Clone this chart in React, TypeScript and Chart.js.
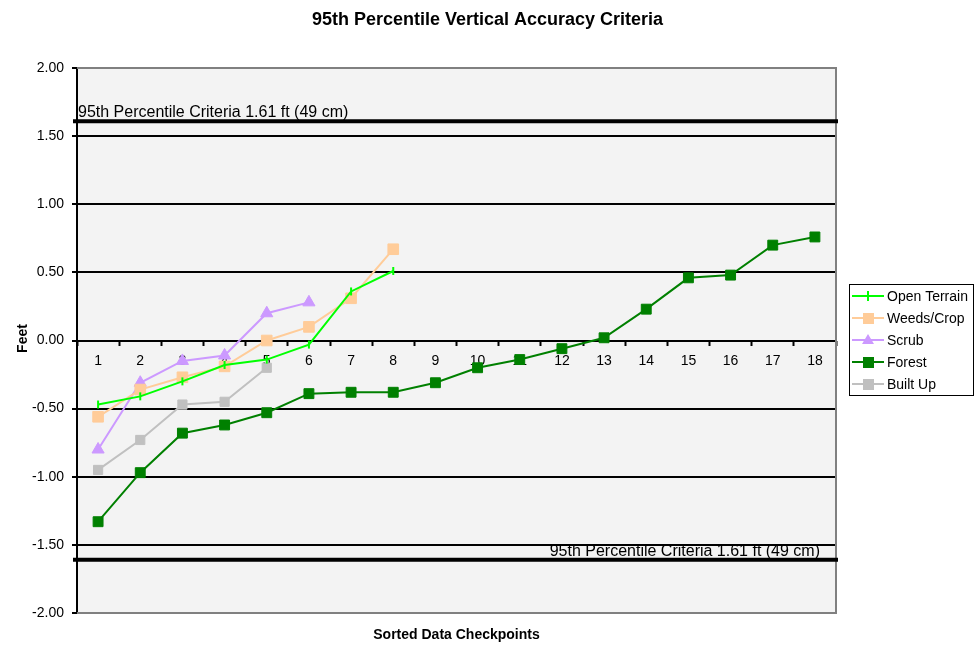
import React, { useEffect, useRef } from "react";
import { Chart, registerables } from "chart.js";

Chart.register(...registerables);

const CATEGORIES = ["1", "2", "3", "4", "5", "6", "7", "8", "9", "10", "11", "12", "13", "14", "15", "16", "17", "18"];
const OPEN_TERRAIN = [-0.47, -0.41, -0.3, -0.18, -0.14, -0.03, 0.36, 0.51];
const WEEDS_CROP = [-0.56, -0.36, -0.27, -0.19, 0.0, 0.1, 0.31, 0.67];
const SCRUB = [-0.8, -0.31, -0.15, -0.11, 0.2, 0.28];
const FOREST = [-1.33, -0.97, -0.68, -0.62, -0.53, -0.39, -0.38, -0.38, -0.31, -0.2, -0.14, -0.06, 0.02, 0.23, 0.46, 0.48, 0.7, 0.76];
const BUILT_UP = [-0.95, -0.73, -0.47, -0.45, -0.2];
const Y_MIN = -2;
const Y_MAX = 2;
const Y_STEP = 0.5;
const CRITERIA = 1.61;
const CRITERIA_LABEL = "95th Percentile Criteria 1.61 ft (49 cm)";
const TITLE = "95th Percentile Vertical Accuracy Criteria";
const X_TITLE = "Sorted Data Checkpoints";
const Y_TITLE = "Feet";

const FONT = "Arial, 'Liberation Sans', sans-serif";

const SERIES = [
  { label: "Open Terrain", data: OPEN_TERRAIN, color: "#00ff00", marker: "plus", radius: 4 },
  { label: "Weeds/Crop", data: WEEDS_CROP, color: "#ffcc99", marker: "rect", radius: 7.5 },
  { label: "Scrub", data: SCRUB, color: "#cc99ff", marker: "triangle", radius: 7 },
  { label: "Forest", data: FOREST, color: "#008000", marker: "rect", radius: 7 },
  { label: "Built Up", data: BUILT_UP, color: "#c0c0c0", marker: "rect", radius: 6.5 },
];

const decorPlugin = {
  id: "decor",
  beforeDraw(chart: any) {
    const { ctx, chartArea: a } = chart;
    ctx.save();
    ctx.fillStyle = "#ffffff";
    ctx.fillRect(0, 0, chart.width, chart.height);
    ctx.fillStyle = "#f3f3f3";
    ctx.fillRect(a.left, a.top, a.right - a.left, a.bottom - a.top);
    ctx.restore();
  },
  beforeDatasetsDraw(chart: any) {
    const { ctx, chartArea: a, scales } = chart;
    const y = scales.y;
    ctx.save();
    ctx.strokeStyle = "#808080";
    ctx.lineWidth = 2;
    ctx.beginPath();
    ctx.moveTo(a.left, a.top);
    ctx.lineTo(a.right, a.top);
    ctx.lineTo(a.right, a.bottom);
    ctx.lineTo(a.left, a.bottom);
    ctx.stroke();
    const yu = y.getPixelForValue(CRITERIA);
    const yl = y.getPixelForValue(-CRITERIA);
    ctx.strokeStyle = "#000000";
    ctx.lineWidth = 4;
    ctx.beginPath();
    ctx.moveTo(a.left - 4, yu);
    ctx.lineTo(a.right + 2, yu);
    ctx.moveTo(a.left - 4, yl);
    ctx.lineTo(a.right + 2, yl);
    ctx.stroke();
    ctx.fillStyle = "#000000";
    ctx.font = `16px ${FONT}`;
    ctx.textBaseline = "alphabetic";
    ctx.textAlign = "left";
    ctx.fillText(CRITERIA_LABEL, a.left + 1, yu - 4);
    ctx.textAlign = "right";
    ctx.fillText(CRITERIA_LABEL, a.right - 16, yl - 4);
    ctx.restore();
  },
  afterDraw(chart: any) {
    const { ctx, chartArea: a } = chart;
    ctx.save();
    ctx.fillStyle = "#000000";
    ctx.font = `bold 18px ${FONT}`;
    ctx.textAlign = "center";
    ctx.textBaseline = "alphabetic";
    ctx.fillText(TITLE, chart.width / 2, 25);
    ctx.font = `bold 14px ${FONT}`;
    ctx.fillText(X_TITLE, (a.left + a.right) / 2, 639);
    ctx.save();
    ctx.translate(27, (a.top + a.bottom) / 2 - 2);
    ctx.rotate(-Math.PI / 2);
    ctx.fillText(Y_TITLE, 0, 0);
    ctx.restore();

    const lx = 849, ly = 284, lw = 125, lh = 112;
    ctx.fillStyle = "#ffffff";
    ctx.fillRect(lx, ly, lw, lh);
    ctx.strokeStyle = "#000000";
    ctx.lineWidth = 1;
    ctx.strokeRect(lx + 0.5, ly + 0.5, lw - 1, lh - 1);
    chart.data.datasets.forEach((ds: any, i: number) => {
      const s = SERIES[i];
      const cy = ly + 12 + i * 22;
      const cx = lx + 19;
      ctx.strokeStyle = s.color;
      ctx.lineWidth = 2;
      ctx.beginPath();
      ctx.moveTo(lx + 3, cy);
      ctx.lineTo(lx + 35, cy);
      ctx.stroke();
      ctx.fillStyle = s.color;
      if (s.marker === "rect") {
        ctx.fillRect(cx - 5, cy - 5, 11, 11);
      } else if (s.marker === "triangle") {
        ctx.beginPath();
        ctx.moveTo(cx, cy - 6);
        ctx.lineTo(cx + 6, cy + 4);
        ctx.lineTo(cx - 6, cy + 4);
        ctx.closePath();
        ctx.fill();
      } else {
        ctx.beginPath();
        ctx.moveTo(cx, cy - 5);
        ctx.lineTo(cx, cy + 5);
        ctx.stroke();
      }
      ctx.fillStyle = "#000000";
      ctx.font = `14px ${FONT}`;
      ctx.textAlign = "left";
      ctx.textBaseline = "middle";
      ctx.fillText(ds.label, lx + 38, cy + 1);
    });
    ctx.restore();
  },
};

export default function App() {
  const ref = useRef<HTMLCanvasElement | null>(null);
  useEffect(() => {
    document.body.style.margin = "0";
    const canvas = ref.current;
    if (!canvas) return;
    const datasets = SERIES.map((s, i) => ({
      label: s.label,
      data: s.data,
      borderColor: s.color,
      backgroundColor: s.color,
      borderWidth: 2,
      pointStyle: s.marker === "plus" ? "line" : s.marker,
      rotation: s.marker === "plus" ? 90 : 0,
      pointRadius: s.radius,
      pointBorderWidth: s.marker === "plus" ? 2 : 1,
      pointBorderColor: s.color,
      pointBackgroundColor: s.color,
      tension: 0,
      fill: false,
      order: i === 3 ? 10 : i,
    }));
    const chart = new Chart(canvas, {
      type: "line",
      data: { labels: CATEGORIES, datasets },
      options: {
        animation: false,
        responsive: false,
        devicePixelRatio: 1,
        layout: { padding: { left: 0, top: 68, right: 139, bottom: 33 } },
        plugins: { legend: { display: false }, title: { display: false }, tooltip: { enabled: false } },
        scales: {
          x: {
            type: "category",
            offset: true,
            position: { y: 0 } as any,
            border: { display: false },
            grid: {
              display: true,
              drawOnChartArea: false,
              drawTicks: true,
              tickLength: 5,
              tickColor: "#000000",
              tickWidth: 2,
              offset: true,
            },
            ticks: { color: "#000000", font: { family: FONT, size: 14 }, padding: 7, maxRotation: 0, autoSkip: false },
          },
          y: {
            min: Y_MIN,
            max: Y_MAX,
            afterFit: (scale: any) => {
              scale.width = 77;
            },
            border: { display: true, color: "#000000", width: 2 },
            grid: {
              color: (c: any) => (c.tick && Math.abs(c.tick.value) === Y_MAX ? "rgba(0,0,0,0)" : "#000000"),
              lineWidth: 2,
              drawTicks: true,
              tickLength: 5,
              tickColor: "#000000",
              tickWidth: 2,
            },
            ticks: {
              stepSize: Y_STEP,
              color: "#000000",
              font: { family: FONT, size: 14 },
              padding: 8,
              callback: (v: any) => Number(v).toFixed(2),
            },
          },
        },
      },
      plugins: [decorPlugin],
    });
    return () => chart.destroy();
  }, []);
  return (
    <div style={{ width: 975, height: 646 }}>
      <canvas ref={ref} width={975} height={646} style={{ display: "block" }} />
    </div>
  );
}
